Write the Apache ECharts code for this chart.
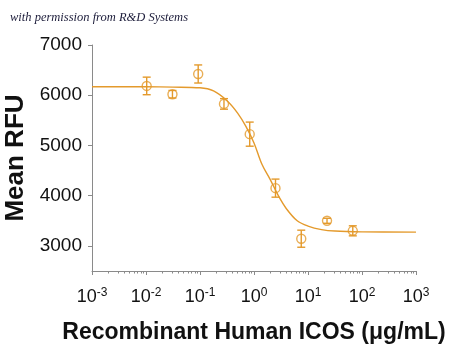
<!DOCTYPE html>
<html>
<head>
<meta charset="utf-8">
<script src="https://cdn.jsdelivr.net/npm/echarts@6/dist/echarts.min.js"></script>
<style>
html,body{margin:0;padding:0;background:#fff;}
#chart{width:450px;height:345px;}
</style>
</head>
<body>
<div id="chart"></div>
<script>
// Data
const concentration = [0.0103, 0.0309, 0.0926, 0.278, 0.833, 2.5, 7.5, 22.5, 67.5];
const meanRFU      = [6185, 6020, 6423, 5827, 5225, 4150, 3143, 3500, 3300];
const errRFU       = [175, 75, 180, 105, 240, 180, 170, 50, 100];
// Fitted curve
const curveX = [0.001, 0.01, 0.0316, 0.1, 0.178, 0.316, 0.501, 0.708, 1, 1.41, 2, 2.82, 3.98, 6.31, 10, 17.8, 31.6, 100, 1000];
const curveY = [6170, 6168, 6162, 6148, 6085, 5890, 5640, 5380, 5050, 4620, 4320, 4000, 3740, 3500, 3395, 3325, 3295, 3280, 3275];
// Axis ticks
const xMajorTicks = [0.001, 0.01, 0.1, 1, 10, 100, 1000];
const yTicks = [3000, 4000, 5000, 6000, 7000];

const xMinorTicks = [];
for (let d = 0; d < xMajorTicks.length - 1; d++) {
  for (let m = 2; m <= 9; m++) xMinorTicks.push(+(xMajorTicks[d] * m).toPrecision(3));
}

const ORANGE = '#E49A2C';
const AXIS = '#8a8a8a';
const TEXT = '#111';
const gridPos = {left: 92, right: 34, top: 45, bottom: 74, containLabel: false, outerBoundsMode: 'none'};

const chart = echarts.init(document.getElementById('chart'), null, {renderer: 'canvas'});

const option = {
  backgroundColor: '#fff',
  animation: false,
  title: {
    text: 'with permission from R&D Systems',
    left: 5, top: 6,
    textStyle: {fontFamily: 'Liberation Serif', fontStyle: 'italic', fontWeight: 'normal', fontSize: 12.5, color: '#1c1c3a'}
  },
  grid: [Object.assign({}, gridPos), Object.assign({}, gridPos)],
  xAxis: [{
    type: 'log', logBase: 10, min: 0.001, max: 1000, gridIndex: 0,
    axisLine: {show: true, lineStyle: {color: AXIS, width: 1}},
    axisTick: {show: true, length: 4, inside: false, customValues: xMajorTicks, lineStyle: {color: AXIS}},
    splitLine: {show: false},
    minorTick: {show: false},
    axisLabel: {
      show: true, margin: 16, customValues: xMajorTicks,
      formatter: function (v) {
        const e = Math.round(Math.log10(v));
        return '{b|10}{s|' + e + '}';
      },
      rich: {
        b: {fontFamily: 'Liberation Sans', fontSize: 18, color: TEXT, lineHeight: 20},
        s: {fontFamily: 'Liberation Sans', fontSize: 12, color: TEXT, verticalAlign: 'top', lineHeight: 12}
      }
    },
    name: 'Recombinant Human ICOS (\u03bcg/mL)',
    nameLocation: 'middle', nameGap: 50,
    nameTextStyle: {fontFamily: 'Liberation Sans', fontWeight: 'bold', fontSize: 23, color: TEXT}
  }, {
    type: 'log', logBase: 10, min: 0.001, max: 1000, gridIndex: 1,
    axisLine: {show: false},
    axisTick: {show: true, length: 2.5, customValues: xMinorTicks, lineStyle: {color: AXIS}},
    axisLabel: {show: false},
    splitLine: {show: false}
  }],
  yAxis: [{
    type: 'value', min: 2500, max: 7000, gridIndex: 0,
    axisLine: {show: true, lineStyle: {color: AXIS, width: 1}},
    axisTick: {show: true, length: 4, customValues: yTicks, lineStyle: {color: AXIS}},
    splitLine: {show: false},
    axisLabel: {show: true, margin: 10, customValues: yTicks, formatter: v => String(v),
      fontFamily: 'Liberation Sans', fontSize: 19, color: TEXT},
    name: 'Mean RFU', nameLocation: 'middle', nameGap: 52, nameRotate: 90,
    nameTextStyle: {fontFamily: 'Liberation Sans', fontWeight: 'bold', fontSize: 26, color: TEXT}
  }, {
    type: 'value', min: 2500, max: 7000, gridIndex: 1, show: false
  }],
  series: [{
    type: 'line', name: 'fit', xAxisIndex: 0, yAxisIndex: 0,
    data: curveX.map((x, i) => [x, curveY[i]]),
    smooth: 0.35, showSymbol: false, symbol: 'none',
    lineStyle: {color: ORANGE, width: 1.4}, z: 2
  }, {
    type: 'custom', name: 'error', xAxisIndex: 0, yAxisIndex: 0,
    data: concentration.map((x, i) => [x, meanRFU[i] - errRFU[i], meanRFU[i] + errRFU[i]]),
    renderItem: function (params, api) {
      const lo = api.coord([api.value(0), api.value(1)]);
      const hi = api.coord([api.value(0), api.value(2)]);
      const w = 4;
      const st = {stroke: ORANGE, lineWidth: 1.4, fill: null};
      return {type: 'group', children: [
        {type: 'line', shape: {x1: lo[0], y1: lo[1], x2: hi[0], y2: hi[1]}, style: st},
        {type: 'line', shape: {x1: lo[0] - w, y1: lo[1], x2: lo[0] + w, y2: lo[1]}, style: st},
        {type: 'line', shape: {x1: hi[0] - w, y1: hi[1], x2: hi[0] + w, y2: hi[1]}, style: st}
      ]};
    },
    z: 3
  }, {
    type: 'scatter', name: 'mean', xAxisIndex: 0, yAxisIndex: 0,
    data: concentration.map((x, i) => [x, meanRFU[i]]),
    symbol: 'circle', symbolSize: 9,
    itemStyle: {color: 'rgba(255,255,255,0)', borderColor: ORANGE, borderWidth: 1.4},
    z: 4
  }]
};
chart.setOption(option);
</script>
</body>
</html>
